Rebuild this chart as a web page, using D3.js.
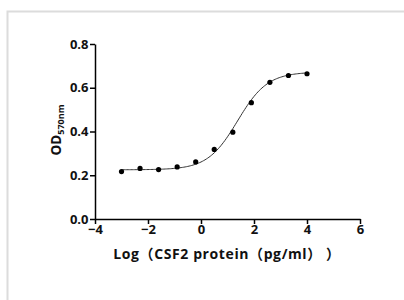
<!DOCTYPE html>
<html>

<head>
  <script src="https://d3js.org/d3.v7.min.js"></script>
  <style>
    body {
      margin: 0;
      background: #fff;
    }

    svg {
      display: block;
    }

    .axis text {
      font-family: 'Open Sans', sans-serif;
      font-weight: 700;
      font-size: 13px;
      fill: #111;
    }

    .axis path,
    .axis line {
      stroke: #000;
      stroke-width: 1.5;
    }
  </style>
</head>

<body>
  <svg width="404" height="300"></svg>
</body>
<script>

  // log10 of concentration and measured OD570
  var logConc = [-3, -2.3, -1.6, -0.9, -0.2, 0.5, 1.2, 1.9, 2.6, 3.3, 4.0];
  var od = [0.217, 0.231, 0.226, 0.238, 0.261, 0.318, 0.397, 0.532, 0.625, 0.656, 0.664];
  var xTicks = [-4, -2, 0, 2, 4, 6];
  var yTicks = [0, 0.2, 0.4, 0.6, 0.8];

  // four parameter logistic fit
  var fitBottom = 0.225,
    fitTop = 0.672,
    fitLogEC50 = 1.38,
    fitHill = 0.77;

  var svg = d3.select("svg");

  var x = d3.scaleLinear().domain([-4, 6]).range([95, 360]);
  var y = d3.scaleLinear().domain([0, 0.8]).range([219, 44]);

  // light grey frame round the picture
  svg.append("path")
    .attr("d", "M7.5,300 V11.5 H404")
    .attr("fill", "none")
    .attr("stroke", "#dcdcdc")
    .attr("stroke-width", 2);

  svg.append("g")
    .attr("class", "axis")
    .attr("transform", "translate(0," + y(0) + ")")
    .call(d3.axisBottom(x).tickValues(xTicks).tickFormat(d3.format("d")).tickSize(5).tickSizeOuter(0).tickPadding(1));

  svg.append("g")
    .attr("class", "axis")
    .attr("transform", "translate(" + x(-4) + ",0)")
    .call(d3.axisLeft(y).tickValues(yTicks).tickFormat(d3.format(".1f")).tickSize(5).tickSizeOuter(0).tickPadding(1.5));

  // fitted curve
  function fit(v) {
    return fitBottom + (fitTop - fitBottom) / (1 + Math.pow(10, (fitLogEC50 - v) * fitHill));
  }
  var curveX = d3.range(logConc[0], logConc[logConc.length - 1] + 0.001, 0.05);
  var line = d3.line()
    .x(function (d) { return x(d); })
    .y(function (d) { return y(fit(d)); });

  svg.append("path")
    .datum(curveX)
    .attr("d", line)
    .attr("fill", "none")
    .attr("stroke", "#333")
    .attr("stroke-width", 1);

  svg.append("g").selectAll("circle")
    .data(logConc)
    .enter().append("circle")
    .attr("cx", function (d) { return x(d); })
    .attr("cy", function (d, i) { return y(od[i]); })
    .attr("r", 2.6)
    .attr("fill", "#000");

  // axis titles
  svg.append("text")
    .attr("x", 227)
    .attr("y", 258.5)
    .attr("text-anchor", "middle")
    .style("font-family", "'Open Sans', 'Noto Sans CJK SC', sans-serif")
    .style("font-weight", 700)
    .style("font-size", "14px")
    .style("letter-spacing", "0.6px")
    .attr("fill", "#111")
    .text("Log（CSF2 protein（pg/ml）  ）");

  var yt = svg.append("text")
    .attr("transform", "translate(61,130) rotate(-90)")
    .attr("text-anchor", "middle")
    .style("font-family", "'Open Sans', sans-serif")
    .style("font-weight", 700)
    .style("font-size", "13.5px")
    .attr("fill", "#111");
  yt.append("tspan").text("OD");
  yt.append("tspan").attr("dy", 3).style("font-size", "9px").text("570nm");

</script>

</html>
